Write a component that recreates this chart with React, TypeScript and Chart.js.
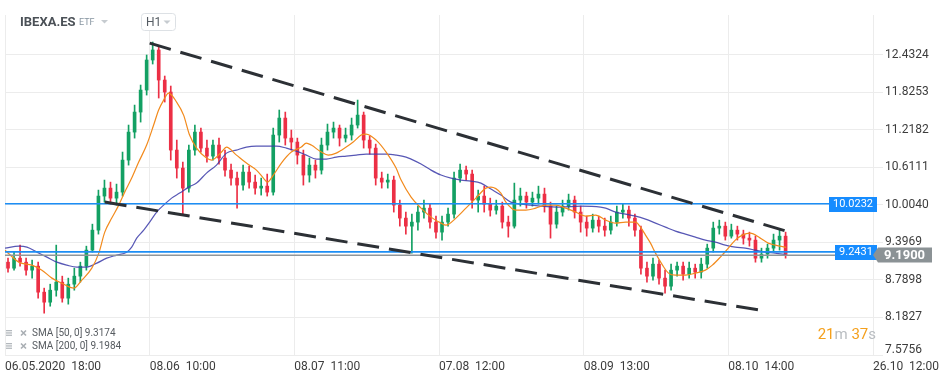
import React, { useEffect, useRef } from 'react';
import { Chart, registerables } from 'chart.js';
Chart.register(...registerables);

// ---- data ----
const xTickPos = [0, 24, 48, 72, 96, 120, 144];
const xTickLabels = ['06.05.2020  18:00', '08.06  10:00', '08.07  11:00', '07.08  12:00', '08.09  13:00', '08.10  14:00', '26.10  12:00'];
const yTickVals = [7.5756, 8.1827, 8.7898, 9.3969, 10.004, 10.6111, 11.2182, 11.8253, 12.4324];

const open = [9.077,8.980,9.142,9.077,8.948,9.013,8.592,8.430,8.624,8.754,
8.495,8.721,8.851,9.013,9.272,9.595,10.146,10.275,10.113,10.210,
10.728,11.181,11.505,11.861,12.347,12.509,12.023,11.829,10.890,10.599,
10.275,10.890,11.181,10.922,10.793,10.971,10.761,10.566,10.437,10.324,
10.534,10.372,10.275,10.307,10.210,11.133,11.408,11.084,11.020,10.809,
10.486,10.647,10.566,10.971,11.181,11.246,11.084,11.133,11.295,11.456,
11.052,10.922,10.437,10.372,10.405,10.000,9.790,9.660,9.725,9.887,
9.951,9.725,9.563,9.725,9.854,10.437,10.566,10.502,10.081,10.146,
10.016,9.919,9.984,9.725,9.660,10.081,10.146,10.049,10.113,10.178,
9.984,9.692,9.887,9.984,10.081,9.887,9.725,9.628,9.757,9.660,
9.595,9.725,9.887,9.919,9.790,9.595,8.980,8.851,9.045,8.819,
8.689,8.948,9.013,8.883,8.980,8.916,9.045,9.304,9.628,9.660,
9.498,9.595,9.531,9.466,9.434,9.142,9.207,9.304,9.434,9.498];
const close = [8.980,9.142,9.077,8.948,9.013,8.592,8.430,8.624,8.754,8.495,
8.721,8.851,9.013,9.272,9.595,10.146,10.275,10.113,10.210,10.728,
11.181,11.505,11.861,12.347,12.509,12.023,11.829,10.890,10.599,10.275,
10.890,11.181,10.922,10.793,10.971,10.761,10.566,10.437,10.324,10.534,
10.372,10.275,10.307,10.210,11.133,11.408,11.084,11.020,10.809,10.486,
10.647,10.566,10.971,11.181,11.246,11.084,11.133,11.295,11.456,11.052,
10.922,10.437,10.372,10.405,10.000,9.790,9.660,9.725,9.887,9.951,
9.725,9.563,9.725,9.854,10.437,10.566,10.502,10.081,10.146,10.016,
9.919,9.984,9.725,9.660,10.081,10.146,10.049,10.113,10.178,9.984,
9.692,9.887,9.984,10.081,9.887,9.725,9.628,9.757,9.660,9.595,
9.725,9.887,9.919,9.790,9.595,8.980,8.851,9.045,8.819,8.689,
8.948,9.013,8.883,8.980,8.916,9.045,9.304,9.628,9.660,9.498,
9.595,9.531,9.466,9.434,9.142,9.207,9.304,9.434,9.498,9.190];
const high = [9.142,9.239,9.353,9.142,9.110,9.077,8.657,8.721,9.353,8.851,
8.819,8.980,9.077,9.336,9.692,10.243,10.405,10.372,10.340,10.858,
11.295,11.618,11.942,12.428,12.638,12.573,12.088,11.926,11.052,10.696,
10.971,11.295,11.246,11.052,11.052,11.084,10.890,10.664,10.534,10.647,
10.631,10.486,10.437,10.502,11.246,11.538,11.505,11.214,11.084,10.890,
10.761,10.728,11.084,11.311,11.343,11.295,11.246,11.408,11.699,11.505,
11.117,10.987,10.534,10.502,10.469,10.081,9.887,9.854,9.984,10.081,
10.016,9.822,9.822,9.951,10.534,10.664,10.631,10.566,10.243,10.307,
10.113,10.081,10.049,9.822,10.356,10.275,10.210,10.210,10.307,10.275,
10.049,9.984,10.081,10.178,10.146,9.984,9.822,9.854,9.822,9.790,
9.822,9.984,10.016,9.984,9.854,9.660,9.077,9.142,9.110,8.948,
9.045,9.077,9.077,9.077,9.045,9.142,9.369,9.725,9.757,9.725,
9.692,9.660,9.595,9.563,9.498,9.304,9.369,9.531,9.612,9.563];
const low = [8.916,8.948,9.013,8.867,8.819,8.495,8.252,8.365,8.527,8.430,
8.398,8.624,8.754,8.948,9.239,9.531,10.049,10.016,10.000,10.146,
10.647,11.084,11.343,11.780,12.282,11.732,11.667,10.728,10.437,9.838,
10.210,10.809,10.858,10.696,10.728,10.664,10.469,10.324,9.951,10.243,
10.275,10.178,10.162,10.146,10.162,11.020,10.971,10.890,10.664,10.324,
10.372,10.437,10.502,10.890,11.084,10.955,11.020,11.052,11.246,10.922,
10.825,10.324,10.275,10.275,9.887,9.660,9.531,9.223,9.595,9.790,
9.628,9.466,9.434,9.660,9.790,10.372,10.405,9.951,9.887,9.887,
9.822,9.854,9.628,9.482,9.628,9.984,9.951,9.984,10.016,9.887,
9.466,9.628,9.822,9.919,9.790,9.563,9.498,9.563,9.563,9.498,
9.531,9.660,9.790,9.660,9.498,8.883,8.754,8.786,8.721,8.576,
8.624,8.851,8.786,8.819,8.819,8.819,8.980,9.239,9.531,9.434,
9.466,9.434,9.369,9.336,9.077,9.077,9.142,9.239,9.272,9.142];

const sma50Pos = [0,2.32,4.47,6.12,7.78,9.43,11.42,12.74,14.40,15.56,16.55,17.71,18.87,19.86,21.02,22.18,23.50,24.66,25.49,26.32,27.14,28.47,29.63,30.62,31.78,33.43,34.26,35.92,36.74,38.40,40.05,41.71,42.87,43.53,44.52,45.85,47.50,49.16,49.99,50.81,52.47,53.63,54.95,56.61,57.77,59.09,59.92,61.57,63.23,64.88,65.71,67.37,69.02,70.68,72.33,73.16,74.81,76.47,78.12,79.78,80.61,82.26,83.09,84.74,86.40,88.05,89.71,91.37,93.02,94.68,96.33,97.99,99.64,101.30,102.95,104.61,105.43,106.26,107.09,107.92,109.08,110.07,111.23,112.88,114.54,116.19,117.35,118.68,120.00,121.16,122.32,123.64,125.30,126.62,127.78,129.60];
const sma50Val = [9.272,9.077,9.029,8.948,8.819,8.737,8.657,8.786,8.980,9.223,9.563,9.790,10.000,10.210,10.437,10.696,10.971,11.295,11.538,11.699,11.812,11.667,11.456,11.133,10.922,10.761,10.728,10.858,10.939,10.809,10.680,10.566,10.437,10.372,10.486,10.680,10.858,10.939,11.004,10.971,10.858,10.809,10.841,10.939,11.020,11.133,11.149,11.052,10.858,10.599,10.405,10.130,9.951,9.806,9.709,9.676,9.790,9.951,10.113,10.275,10.291,10.194,10.049,9.919,9.919,9.951,10.000,10.000,9.951,9.887,9.822,9.838,9.757,9.709,9.725,9.725,9.644,9.515,9.385,9.223,9.029,8.900,8.867,8.867,8.900,8.948,9.029,9.159,9.304,9.434,9.515,9.547,9.466,9.385,9.353,9.317];
const sma200Pos = [0,2.32,3.64,5.30,6.95,8.61,10.26,11.92,13.57,15.23,16.88,18.54,20.19,21.02,21.85,23.01,24.00,25.16,26.32,27.64,28.97,30.46,31.78,33.43,35.09,36.74,38.40,40.05,41.71,43.37,45.02,46.68,48.33,49.99,51.64,53.30,54.95,56.61,58.26,59.92,63.23,64.88,66.54,67.37,69.02,70.68,72.33,73.99,75.64,77.30,78.95,80.61,82.26,83.92,85.57,87.23,88.88,92.19,95.50,98.81,99.64,101.30,102.95,104.61,106.26,107.92,109.57,111.23,112.88,114.54,116.19,117.85,119.50,121.16,122.81,124.47,126.12,127.78,129.60];
const sma200Val = [9.304,9.336,9.320,9.239,9.159,9.077,9.029,8.997,8.997,9.061,9.142,9.191,9.239,9.320,9.466,9.595,9.725,9.887,10.000,10.113,10.194,10.291,10.356,10.518,10.647,10.841,10.890,10.939,10.955,10.955,10.955,10.922,10.874,10.809,10.744,10.744,10.777,10.793,10.809,10.825,10.825,10.809,10.777,10.744,10.664,10.566,10.486,10.437,10.405,10.389,10.356,10.259,10.162,10.049,10.016,10.000,9.984,9.968,9.984,9.968,9.951,9.887,9.854,9.822,9.773,9.709,9.644,9.579,9.531,9.482,9.434,9.401,9.353,9.320,9.304,9.272,9.239,9.223,9.198];

const trendUpperX = [24.0, 130.76];
const trendUpperY = [12.62, 9.547];
const trendLowerX = [16.55, 125.3];
const trendLowerY = [10.049, 8.30];

const levelUpper = 10.0232;
const levelLower = 9.2431;
const lastPrice = 9.19;
const sma50Last = '9.3174';
const sma200Last = '9.1984';

const GREEN = '#13a063';
const RED = '#ec2f45';
const GRID = '#ececec';
const BLUE = '#1c8ef5';

export default function App() {
  const ref = useRef<HTMLCanvasElement>(null);
  useEffect(() => {
    const canvas = ref.current!;
    const colors = open.map((o, i) => (close[i] >= o ? GREEN : RED));
    const bodies = open.map((o, i) => ({ x: i + 0.5, y: [o, close[i]] }));
    const wicks = low.map((l, i) => ({ x: i + 0.5, y: [l, high[i]] }));
    const pts = (xs: number[], ys: number[]) => xs.map((x, i) => ({ x, y: ys[i] }));
    const hline = (v: number) => [{ x: 0, y: v }, { x: 144, y: v }];

    const overlay = {
      id: 'overlay',
      afterDraw(chart: any) {
        const ctx = chart.ctx as CanvasRenderingContext2D;
        const y = chart.scales.y;
        ctx.save();
        // bottom y tick label (raised to stay above the x labels)
        ctx.font = '12px Roboto';
        ctx.fillStyle = '#3c3c3c';
        ctx.textAlign = 'left';
        ctx.textBaseline = 'middle';
        ctx.fillText('7.5756', 885, Math.round(y.getPixelForValue(7.5756)) - 5);

        // level boxes
        const box = (v: number, x0: number, label: string) => {
          const py = Math.round(y.getPixelForValue(v));
          ctx.fillStyle = '#168cff';
          ctx.fillRect(x0, py - 7, 877 - x0, 15);
          ctx.fillStyle = '#ffffff';
          ctx.font = '11px Roboto';
          ctx.textAlign = 'center';
          ctx.fillText(label, (x0 + 877) / 2, py + 0.5);
        };
        box(levelUpper, 829, levelUpper.toFixed(4));
        box(levelLower, 835, levelLower.toFixed(4));
        // last price box
        const lp = Math.round(y.getPixelForValue(lastPrice));
        ctx.fillStyle = '#8b9295';
        ctx.beginPath();
        ctx.moveTo(873, lp);
        ctx.lineTo(878, lp - 7.5);
        ctx.lineTo(932, lp - 7.5);
        ctx.lineTo(932, lp + 7.5);
        ctx.lineTo(878, lp + 7.5);
        ctx.closePath();
        ctx.fill();
        ctx.fillStyle = '#ffffff';
        ctx.font = 'bold 13px Roboto';
        ctx.textAlign = 'left';
        ctx.fillText(lastPrice.toFixed(4), 884, lp + 0.5);

        // header
        ctx.fillStyle = '#4b5157';
        ctx.font = 'bold 13px Roboto';
        ctx.fillText('IBEXA.ES', 20, 22.5);
        ctx.fillStyle = '#8795a1';
        ctx.font = '9px Roboto';
        ctx.fillText('ETF', 79, 22.5);
        const tri = (cx: number, cy: number) => {
          ctx.fillStyle = '#c6cbd0';
          ctx.beginPath();
          ctx.moveTo(cx - 3.5, cy - 1.5);
          ctx.lineTo(cx + 3.5, cy - 1.5);
          ctx.lineTo(cx, cy + 2);
          ctx.closePath();
          ctx.fill();
        };
        tri(104.5, 21.5);
        ctx.fillStyle = '#ffffff';
        ctx.strokeStyle = '#dde1e5';
        ctx.lineWidth = 1;
        ctx.beginPath();
        (ctx as any).roundRect(141.5, 13.5, 34, 17, 3);
        ctx.fill();
        ctx.stroke();
        ctx.fillStyle = '#555c63';
        ctx.font = '12px Roboto';
        ctx.fillText('H1', 146, 22.5);
        tri(167, 22);

        // indicator legend
        const legendRow = (cy: number, text: string) => {
          ctx.fillStyle = '#b3b8bd';
          ctx.fillRect(6, cy - 3, 6, 1.3);
          ctx.fillRect(6, cy - 0.7, 6, 1.3);
          ctx.fillRect(6, cy + 1.6, 6, 1.3);
          ctx.strokeStyle = '#a9aeb3';
          ctx.lineWidth = 1.6;
          ctx.beginPath();
          ctx.moveTo(21, cy - 2.5); ctx.lineTo(26, cy + 2.5);
          ctx.moveTo(26, cy - 2.5); ctx.lineTo(21, cy + 2.5);
          ctx.stroke();
          ctx.fillStyle = '#565b60';
          ctx.font = '10px Roboto';
          ctx.textAlign = 'left';
          ctx.fillText(text, 32, cy);
        };
        legendRow(333, 'SMA [50, 0] ' + sma50Last);
        legendRow(346, 'SMA [200, 0] ' + sma200Last);

        // countdown
        ctx.font = '15px Roboto';
        const parts: [string, string][] = [['21', '#f5a01c'], ['m', '#b9bdc1'], [' 37', '#f5a01c'], ['s', '#b9bdc1']];
        const total = parts.reduce((s, p) => s + ctx.measureText(p[0]).width, 0);
        let cx = 876 - total;
        for (const [t, c] of parts) {
          ctx.fillStyle = c;
          ctx.fillText(t, cx, 335);
          cx += ctx.measureText(t).width;
        }
        ctx.restore();
      },
    };

    const chart = new Chart(canvas, {
      type: 'bar',
      data: {
        datasets: [
          { type: 'line', data: pts(trendUpperX, trendUpperY) as any, borderColor: '#2c3035', borderWidth: 3, borderDash: [22, 10], pointRadius: 0, order: 1 },
          { type: 'line', data: pts(trendLowerX, trendLowerY) as any, borderColor: '#2c3035', borderWidth: 3, borderDash: [22, 10], pointRadius: 0, order: 1 },
          { type: 'line', data: hline(levelUpper) as any, borderColor: BLUE, borderWidth: 1.6, pointRadius: 0, order: 2 },
          { type: 'line', data: hline(levelLower) as any, borderColor: BLUE, borderWidth: 1.6, pointRadius: 0, order: 2 },
          { type: 'line', data: hline(lastPrice) as any, borderColor: '#8f969a', borderWidth: 1.6, pointRadius: 0, order: 2 },
          { type: 'line', data: pts(sma50Pos, sma50Val) as any, borderColor: '#f28a1c', borderWidth: 1.2, pointRadius: 0, cubicInterpolationMode: 'monotone', order: 3 },
          { type: 'line', data: pts(sma200Pos, sma200Val) as any, borderColor: 'rgba(58,58,168,0.85)', borderWidth: 1.2, pointRadius: 0, cubicInterpolationMode: 'monotone', order: 4 },
          { type: 'bar', data: bodies as any, backgroundColor: colors, borderWidth: 0, barThickness: 3, grouped: false, order: 5 },
          { type: 'bar', data: wicks as any, backgroundColor: colors, borderWidth: 0, barThickness: 1, grouped: false, order: 6 },
        ] as any,
      },
      options: {
        responsive: false,
        animation: false,
        devicePixelRatio: 1,
        layout: { padding: { top: 15, left: 3, right: 0, bottom: 0 } },
        plugins: { legend: { display: false }, tooltip: { enabled: false } },
        scales: {
          x: {
            type: 'linear',
            min: 0,
            max: 144,
            offset: false,
            grid: { color: GRID, drawTicks: false, offset: false },
            border: { color: GRID },
            afterBuildTicks: (s: any) => { s.ticks = xTickPos.map((v) => ({ value: v })); },
            afterFit: (s: any) => { s.height = 25; },
            ticks: {
              align: 'start',
              autoSkip: false,
              maxRotation: 0,
              minRotation: 0,
              padding: 5,
              color: '#3c3c3c',
              font: { family: 'Roboto', size: 12 },
              callback: (v: any) => { const k = xTickPos.indexOf(Number(v)); return k >= 0 ? xTickLabels[k] : ''; },
            },
          },
          y: {
            type: 'linear',
            position: 'right',
            min: 7.5756,
            max: 13.075,
            grid: { color: GRID, tickLength: 10 },
            border: { color: GRID },
            afterBuildTicks: (s: any) => { s.ticks = yTickVals.map((v) => ({ value: v })); },
            afterFit: (s: any) => { s.width = 72; },
            ticks: {
              autoSkip: false,
              padding: 2,
              color: '#3c3c3c',
              font: { family: 'Roboto', size: 12 },
              callback: (v: any) => (Math.abs(Number(v) - 7.5756) < 1e-6 ? '' : Number(v).toFixed(4)),
            },
          },
        },
      } as any,
      plugins: [overlay],
    });
    return () => chart.destroy();
  }, []);

  return (
    <div style={{ position: 'fixed', left: 0, top: 0, width: 945, height: 380, background: '#ffffff' }}>
      <canvas ref={ref} width={945} height={380} style={{ display: 'block', width: 945, height: 380 }} />
    </div>
  );
}
